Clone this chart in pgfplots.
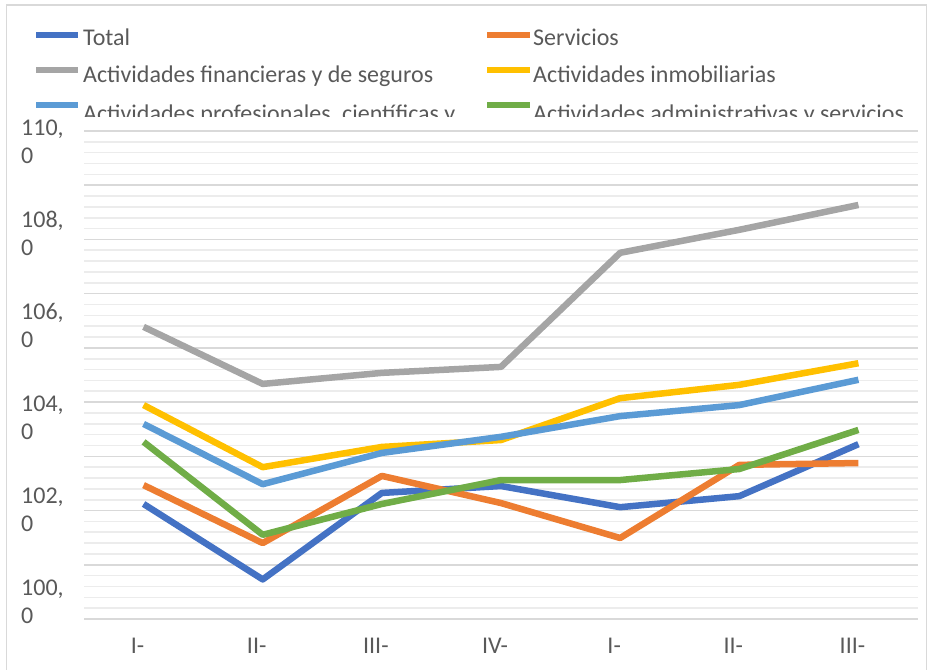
\documentclass[border=0pt]{standalone}
\usepackage{fontspec}
\setmainfont{Carlito}
\usepackage{pgfplots}
\pgfplotsset{compat=1.18}
\definecolor{cTotal}{HTML}{4472C4}
\definecolor{cServ}{HTML}{ED7D31}
\definecolor{cFin}{HTML}{A5A5A5}
\definecolor{cInm}{HTML}{FFC000}
\definecolor{cProf}{HTML}{5B9BD5}
\definecolor{cAdm}{HTML}{70AD47}
\definecolor{cText}{HTML}{595959}
\definecolor{cGridMaj}{HTML}{D9D9D9}
\definecolor{cGridMin}{HTML}{ECECEC}
\definecolor{cBorder}{HTML}{D9D9D9}
\newcommand{\chartfont}{\fontsize{24bp}{28bp}\selectfont}
\begin{document}
\begin{tikzpicture}[x=1bp,y=1bp]
\path[use as bounding box] (0,0) rectangle (930,670);
\draw[color=cBorder, line width=1.2bp] (6.5,-2) -- (6.5,665) -- (926.5,665) -- (926.5,-2);
% legend
\begin{scope}
\clip (0,553.5) rectangle (930,664);
\draw[cTotal, line width=6bp] (36,634.5) -- (78,634.5);
\node[anchor=base west, inner sep=0pt, font=\chartfont, text=cText] at (83,624.5) {Total};
\draw[cServ, line width=6bp] (487,634.5) -- (530,634.5);
\node[anchor=base west, inner sep=0pt, font=\chartfont, text=cText] at (533,624.5) {Servicios};
\draw[cFin, line width=6bp] (36,599.5) -- (78,599.5);
\node[anchor=base west, inner sep=0pt, font=\chartfont, text=cText] at (83,587) {Actividades financieras y de seguros};
\draw[cInm, line width=6bp] (487,599.5) -- (530,599.5);
\node[anchor=base west, inner sep=0pt, font=\chartfont, text=cText] at (533,587) {Actividades inmobiliarias};
\draw[cProf, line width=6bp] (36,565) -- (78,565);
\node[anchor=base west, inner sep=0pt, font=\chartfont, text=cText] at (83,548) {Actividades profesionales, científicas y};
\draw[cAdm, line width=6bp] (487,565) -- (530,565);
\node[anchor=base west, inner sep=0pt, font=\chartfont, text=cText] at (533,548) {Actividades administrativas y servicios};
\end{scope}
\begin{axis}[
  at={(84bp,51bp)}, anchor=south west,
  scale only axis, width=834bp, height=488bp,
  xmin=-0.5, xmax=6.5, ymin=99.6196, ymax=110.2283,
  axis line style={draw=none}, tick style={draw=none},
  xtick={0,...,6}, xticklabels={I-,II-,III-,IV-,I-,II-,III-},
  xticklabel style={anchor=north, inner sep=0pt, yshift=-19bp, xshift=-6bp, font=\chartfont, text=cText},
  ytick={99.6196,100.7983,101.9771,103.1558,104.3346,105.5133,106.6920,107.8708,109.0495,110.2283},
  yticklabels={},
  minor ytick={99.8553,100.0911,100.3268,100.5626,101.0341,101.2698,101.5056,101.7413,102.2128,102.4486,102.6843,102.9201,103.3916,103.6273,103.8631,104.0988,104.5703,104.8061,105.0418,105.2776,105.7491,105.9848,106.2206,106.4563,106.9278,107.1636,107.3993,107.6351,108.1066,108.3423,108.5781,108.8138,109.2853,109.5211,109.7568,109.9926},
  ymajorgrids, yminorgrids,
  major grid style={draw=cGridMaj, line width=1.6bp},
  minor grid style={draw=cGridMin, line width=1.6bp},
  extra y ticks={100,102,104,106,108,110},
  extra y tick labels={{100,\\0},{102,\\0},{104,\\0},{106,\\0},{108,\\0},{110,\\0}},
  extra y tick style={grid=none},
  yticklabel style={anchor=west, align=left, inner sep=0pt, xshift=-63bp, font=\chartfont, text=cText},
  every axis plot/.append style={line width=6.5bp, line join=round, line cap=butt, mark=none},
]
\addplot[cTotal] coordinates {(0,102.12) (1,100.48) (2,102.36) (3,102.51) (4,102.05) (5,102.29) (6,103.42)};
\addplot[cServ] coordinates {(0,102.53) (1,101.27) (2,102.73) (3,102.14) (4,101.38) (5,102.97) (6,103.01)};
\addplot[cFin] coordinates {(0,105.97) (1,104.73) (2,104.97) (3,105.10) (4,107.58) (5,108.08) (6,108.62)};
\addplot[cInm] coordinates {(0,104.27) (1,102.92) (2,103.36) (3,103.51) (4,104.42) (5,104.71) (6,105.18)};
\addplot[cProf] coordinates {(0,103.86) (1,102.55) (2,103.23) (3,103.58) (4,104.03) (5,104.27) (6,104.82)};
\addplot[cAdm] coordinates {(0,103.47) (1,101.45) (2,102.12) (3,102.64) (4,102.64) (5,102.88) (6,103.73)};
\end{axis}
\end{tikzpicture}
\end{document}
